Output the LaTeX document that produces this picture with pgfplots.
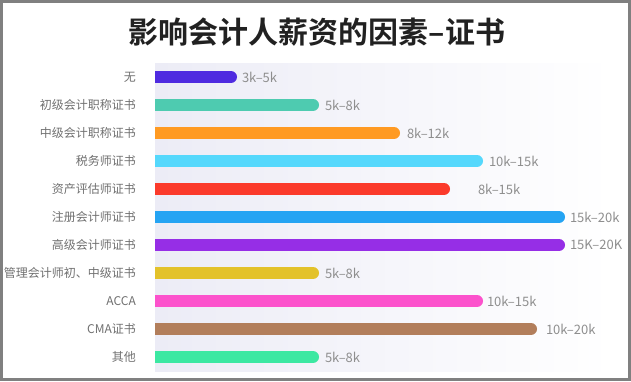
\documentclass[border=0pt]{standalone}
\usepackage{pgfplots}
\pgfplotsset{compat=1.18}
\usepackage{fontspec}
\setmainfont{Noto Sans CJK SC}[BoldFont={Noto Sans CJK SC Bold}]
\definecolor{c0}{HTML}{4F2BE0}
\definecolor{c1}{HTML}{4ECBB0}
\definecolor{c2}{HTML}{FF9A22}
\definecolor{c3}{HTML}{55D8FC}
\definecolor{c4}{HTML}{FB3A2B}
\definecolor{c5}{HTML}{25A4F3}
\definecolor{c6}{HTML}{962EE6}
\definecolor{c7}{HTML}{E3C22A}
\definecolor{c8}{HTML}{FC52CC}
\definecolor{c9}{HTML}{B27E5B}
\definecolor{c10}{HTML}{3CE8A2}
\definecolor{bgl}{HTML}{ECECF6}
\definecolor{framegray}{HTML}{808080}
\definecolor{labgray}{HTML}{707070}
\definecolor{valgray}{HTML}{8E8E8E}
\pgfplotstableread{
idx lx lab
0 87 3k–5k
1 170 5k–8k
2 252 8k–12k
3 334 10k–15k
4 323 8k–15k
5 415 15k–20k
6 415 15K–20K
7 170 5k–8k
8 332 10k–15k
9 391 10k–20k
10 170 5k–8k
}\labels
\begin{document}
\begin{tikzpicture}[x=1pt,y=1pt]
\path[fill=white] (0,0) rectangle (631,381);
\node[font=\bfseries\fontsize{30}{34}\selectfont, text=black!87] at (317,349) {影响会计人薪资的因素–证书};
\begin{axis}[
  at={(155pt,10pt)}, anchor=south west,
  scale only axis, width=445pt, height=308pt,
  xmin=0, xmax=445, ymin=-0.5, ymax=10.5, y dir=reverse,
  axis line style={draw=none}, major tick style={draw=none},
  xtick=\empty,
  ytick={0,...,10},
  yticklabels={无,初级会计职称证书,中级会计职称证书,税务师证书,资产评估师证书,注册会计师证书,高级会计师证书,管理会计师初、中级证书,ACCA,CMA证书,其他},
  yticklabel style={anchor=east, inner sep=0pt, xshift=-19pt, text=labgray, font=\fontsize{12}{14}\selectfont},
  axis background/.style={left color=bgl, right color=white!97!bgl},
  every axis plot/.append style={line width=12pt, line cap=round, shorten >=6pt},
]
\addplot[c0] coordinates {(0,0) (82,0)};
\addplot[c1] coordinates {(0,1) (164,1)};
\addplot[c2] coordinates {(0,2) (245,2)};
\addplot[c3] coordinates {(0,3) (328,3)};
\addplot[c4] coordinates {(0,4) (295,4)};
\addplot[c5] coordinates {(0,5) (410,5)};
\addplot[c6] coordinates {(0,6) (410,6)};
\addplot[c7] coordinates {(0,7) (164,7)};
\addplot[c8] coordinates {(0,8) (328,8)};
\addplot[c9] coordinates {(0,9) (382,9)};
\addplot[c10] coordinates {(0,10) (164,10)};
\addplot[draw=none, line width=0pt, shorten >=0pt, mark=none, nodes near coords, point meta=explicit symbolic,
  nodes near coords style={anchor=west, inner sep=0pt, text=valgray, font=\fontsize{13}{15}\selectfont}]
  table[x=lx, y=idx, meta=lab] {\labels};
\end{axis}
\draw[framegray, line width=3pt] (1.5,1.5) rectangle (629.5,379.5);
\end{tikzpicture}
\end{document}
